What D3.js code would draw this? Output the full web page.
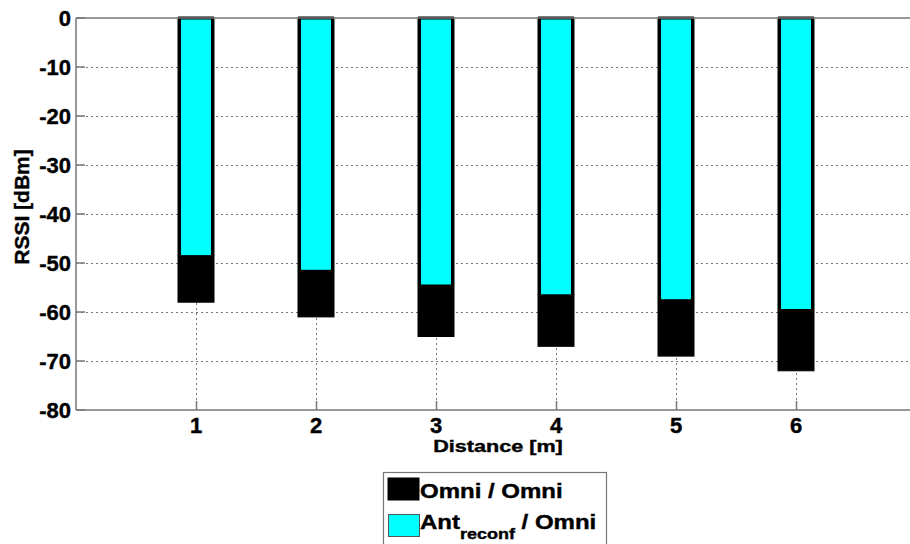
<!DOCTYPE html>
<html><head><meta charset="utf-8">
<script src="https://cdn.jsdelivr.net/npm/d3@7"></script>
<style>
body{margin:0;background:#fff;}
text{font-family:Arial,"Liberation Sans",sans-serif;font-weight:700;fill:#000;stroke:#000;stroke-width:0.4px;}
</style></head>
<body>
<svg id="c" width="910" height="544"></svg>
<script>
const distances = [1, 2, 3, 4, 5, 6];
const omniOmni = [-58, -61, -65, -67, -69, -72];
const antReconfOmni = [-49, -52, -55, -57, -58, -60];
const yTicks = [0, -10, -20, -30, -40, -50, -60, -70, -80];

const svg = d3.select("#c");
const pL = 76, pR = 916, pT = 18, pB = 410;
const x = d3.scaleLinear().domain([0, 7]).range([pL, pR]);
const y = d3.scaleLinear().domain([-80, 0]).range([pB, pT]);
const bw = x(0.3) - x(0);

// grid
const grid = svg.append("g").attr("stroke", "#777").attr("stroke-width", 1).attr("stroke-dasharray", "2,3");
grid.selectAll(".hg").data(yTicks.filter(d => d !== 0 && d !== -80)).enter().append("line")
  .attr("x1", pL).attr("x2", pR).attr("y1", d => y(d) + 0.5).attr("y2", d => y(d) + 0.5);
grid.selectAll(".vg").data(distances).enter().append("line")
  .attr("x1", d => Math.round(x(d)) + 0.5).attr("x2", d => Math.round(x(d)) + 0.5).attr("y1", pT).attr("y2", pB);

// bars
svg.append("g").selectAll("rect").data(omniOmni).enter().append("rect")
  .attr("x", (d, i) => x(distances[i]) - bw / 2).attr("width", bw)
  .attr("y", y(0)).attr("height", d => y(d) - y(0))
  .attr("fill", "#000").attr("stroke", "#000").attr("stroke-width", 1);
svg.append("g").selectAll("rect").data(antReconfOmni).enter().append("rect")
  .attr("x", (d, i) => x(distances[i]) - bw / 2 + 1.5).attr("width", bw - 3)
  .attr("y", y(0)).attr("height", d => y(d) - y(0) - 1.5)
  .attr("fill", "#00FFFF").attr("stroke", "#000").attr("stroke-width", 3);

// axes
const ax = svg.append("g").attr("stroke", "#777").attr("stroke-width", 1.5).attr("fill", "none");
ax.append("line").attr("x1", pL).attr("x2", pR).attr("y1", pB).attr("y2", pB);
ax.append("line").attr("x1", pL).attr("x2", pR).attr("y1", pT).attr("y2", pT);
ax.append("line").attr("x1", pL).attr("x2", pL).attr("y1", pT).attr("y2", pB);
ax.selectAll(".xt").data(distances).enter().append("line")
  .attr("x1", d => Math.round(x(d)) + 0.5).attr("x2", d => Math.round(x(d)) + 0.5)
  .attr("y1", pB).attr("y2", pB - 9);
ax.selectAll(".yt").data(yTicks).enter().append("line")
  .attr("x1", pL).attr("x2", pL + 9).attr("y1", d => y(d)).attr("y2", d => y(d));

svg.append("g").selectAll("text").data(yTicks).enter().append("text")
  .attr("x", pL - 5).attr("y", d => y(d) + 8).attr("text-anchor", "end")
  .attr("font-size", 22).text(d => d);
svg.append("g").selectAll("text").data(distances).enter().append("text")
  .attr("x", d => x(d)).attr("y", pB + 23).attr("text-anchor", "middle")
  .attr("font-size", 22).text(d => d);

svg.append("text").attr("transform", "translate(498,452) scale(1.27,1)").attr("text-anchor", "middle")
  .attr("font-size", 17).text("Distance [m]");
svg.append("text").attr("transform", "translate(29,207) rotate(-90)").attr("text-anchor", "middle")
  .attr("font-size", 21).text("RSSI [dBm]");

// legend
const lg = svg.append("g");
lg.append("rect").attr("x", 383.5).attr("y", 472.5).attr("width", 223).attr("height", 90)
  .attr("fill", "#fff").attr("stroke", "#777").attr("stroke-width", 1.2);
lg.append("rect").attr("x", 388).attr("y", 478).attr("width", 31).attr("height", 22).attr("fill", "#000").attr("stroke", "#000");
lg.append("rect").attr("x", 388.5).attr("y", 514.5).attr("width", 31).attr("height", 22).attr("fill", "#00FFFF").attr("stroke", "#555");
lg.append("text").attr("transform", "translate(420,498) scale(1.2,1)").attr("font-size", 20).text("Omni / Omni");
const t2 = lg.append("text").attr("transform", "translate(420,529) scale(1.2,1)").attr("font-size", 20);
t2.append("tspan").text("Ant");
t2.append("tspan").attr("font-size", 15).attr("dy", 10).text("reconf");
t2.append("tspan").attr("dy", -10).text(" / Omni");
</script>
</body></html>
